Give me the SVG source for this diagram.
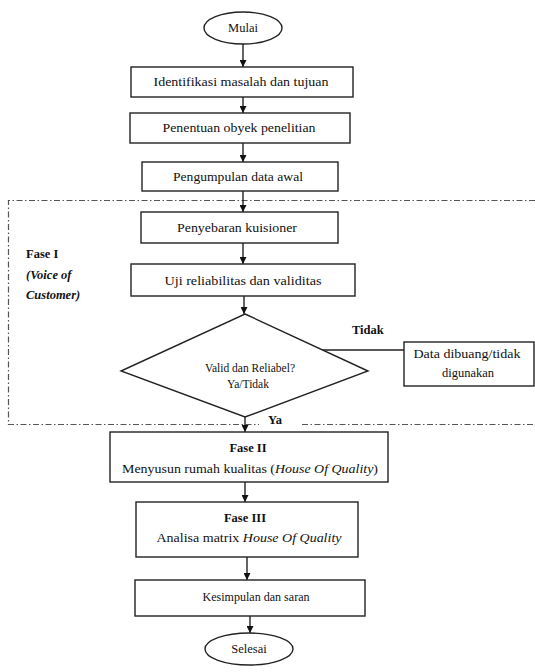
<svg xmlns="http://www.w3.org/2000/svg" width="535" height="672" viewBox="0 0 535 672" font-family="'Liberation Serif', serif">
<defs>
<marker id="ah" viewBox="0 0 8 8" refX="8" refY="4" markerWidth="7" markerHeight="7" markerUnits="userSpaceOnUse" orient="auto">
<path d="M0,0 L8,4 L0,8 Z" fill="#111"/>
</marker>
<style>
.box{fill:#fff;stroke:#222;stroke-width:1.4}
.t{font-family:'Liberation Serif',serif;font-size:12.5px;fill:#111;text-anchor:middle}
.b{font-weight:bold}
.i{font-style:italic}
.tl{font-family:'Liberation Serif',serif;font-size:12.5px;fill:#111}
.c{fill:none;stroke:#111;stroke-width:1.3;marker-end:url(#ah)}
.ln{fill:none;stroke:#222;stroke-width:1.3}
.frame{fill:none;stroke:#555;stroke-width:1.2;stroke-dasharray:6 2.5 1.5 2.5}
</style>
</defs>
<rect width="535" height="672" fill="#fff"/>

<g id="frame">
<path class="frame" d="M535,200.5 H8.5 V424.5 H259"/>
<path class="frame" d="M302,424.5 H535"/>
<text class="tl b" x="26" y="258">Fase I</text>
<text class="tl b i" x="26" y="279">(Voice of</text>
<text class="tl b i" x="26" y="299">Customer)</text>
</g>

<g id="connectors">
<line class="c" x1="243" y1="44" x2="243" y2="67"/>
<line class="c" x1="243" y1="97" x2="243" y2="113"/>
<line class="c" x1="243" y1="143" x2="243" y2="162"/>
<line class="c" x1="243" y1="191" x2="243" y2="212"/>
<line class="c" x1="243" y1="243" x2="243" y2="264"/>
<line class="c" x1="244" y1="296" x2="244" y2="314"/>
<line class="ln" x1="318" y1="350" x2="404" y2="350"/>
<line class="c" x1="245" y1="417" x2="245" y2="432"/>
<line class="c" x1="245" y1="482" x2="245" y2="502"/>
<line class="c" x1="247" y1="557" x2="247" y2="580"/>
<line class="c" x1="250" y1="616" x2="250" y2="633"/>
<text class="tl b" x="352" y="334">Tidak</text>
<text class="tl b" x="268" y="424">Ya</text>
</g>

<g id="mulai">
<ellipse class="box" cx="243" cy="28" rx="39" ry="16"/>
<text class="t" x="243" y="32">Mulai</text>
</g>

<g id="identifikasi">
<rect class="box" x="131" y="67" width="222" height="30"/>
<text class="t" x="241" y="86" textLength="175" lengthAdjust="spacingAndGlyphs">Identifikasi masalah dan tujuan</text>
</g>

<g id="penentuan">
<rect class="box" x="130" y="113" width="220" height="30"/>
<text class="t" x="239" y="132" textLength="153" lengthAdjust="spacingAndGlyphs">Penentuan obyek penelitian</text>
</g>

<g id="pengumpulan">
<rect class="box" x="142" y="162" width="196" height="29"/>
<text class="t" x="238" y="181" textLength="130" lengthAdjust="spacingAndGlyphs">Pengumpulan data awal</text>
</g>

<g id="penyebaran">
<rect class="box" x="141" y="212" width="197" height="31"/>
<text class="t" x="237" y="232" textLength="120" lengthAdjust="spacingAndGlyphs">Penyebaran  kuisioner</text>
</g>

<g id="uji">
<rect class="box" x="131" y="264" width="224" height="32"/>
<text class="t" x="243" y="285" textLength="157" lengthAdjust="spacingAndGlyphs">Uji reliabilitas dan validitas</text>
</g>

<g id="valid">
<polygon class="box" points="245,314 368,371 245,417 121,371"/>
<text class="t" x="250" y="372" style="font-size:11.5px">Valid dan Reliabel?</text>
<text class="t" x="248" y="388" style="font-size:11.5px">Ya/Tidak</text>
</g>

<g id="dibuang">
<rect class="box" x="404" y="342" width="130" height="44"/>
<text class="t" x="467" y="358" textLength="107" lengthAdjust="spacingAndGlyphs">Data dibuang/tidak</text>
<text class="t" x="468" y="377">digunakan</text>
</g>

<g id="fase2">
<rect class="box" x="110" y="432" width="278" height="50"/>
<text class="t b" x="248" y="452">Fase II</text>
<text class="t" x="250" y="473" textLength="256" lengthAdjust="spacingAndGlyphs">Menyusun rumah kualitas (<tspan class="i">House Of Quality</tspan>)</text>
</g>

<g id="fase3">
<rect class="box" x="136" y="502" width="222" height="55"/>
<text class="t b" x="245" y="522">Fase III</text>
<text class="t" x="249" y="542" textLength="185" lengthAdjust="spacingAndGlyphs">Analisa matrix <tspan class="i">House Of Quality</tspan></text>
</g>

<g id="kesimpulan">
<rect class="box" x="135" y="580" width="230" height="36"/>
<text class="t" x="256" y="601" textLength="107" lengthAdjust="spacingAndGlyphs">Kesimpulan dan saran</text>
</g>

<g id="selesai">
<ellipse class="box" cx="249" cy="649" rx="44" ry="16"/>
<text class="t" x="249" y="653">Selesai</text>
</g>
</svg>
